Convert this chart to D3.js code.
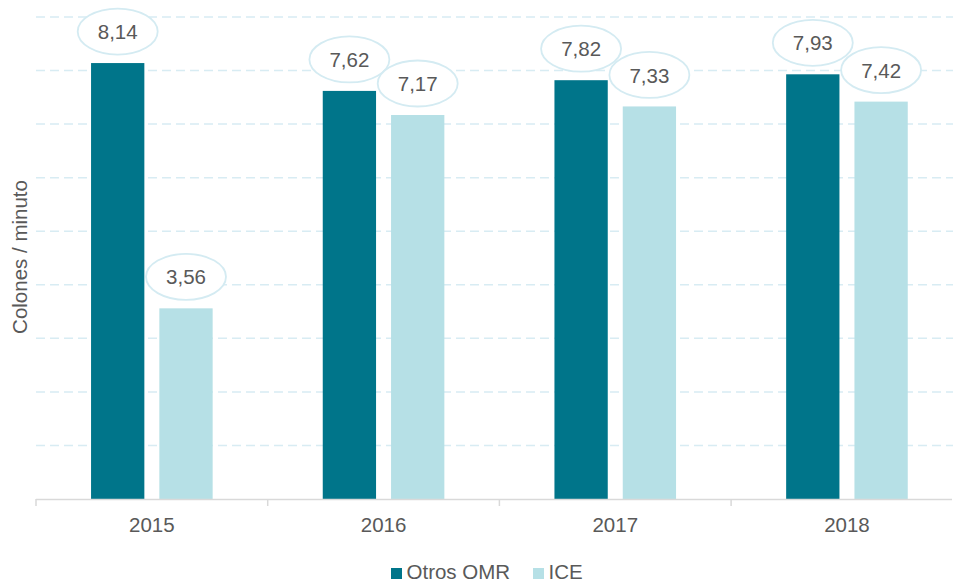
<!DOCTYPE html>
<html><head><meta charset="utf-8">
<script src="https://cdn.jsdelivr.net/npm/d3@7"></script>
<style>body{margin:0;background:#fff}svg{display:block}text{font-family:"Liberation Sans",Arial,sans-serif;fill:#595959}</style>
</head><body>
<svg id="c" width="953" height="582"></svg>
<script>
const years = ["2015","2016","2017","2018"];
const seriesNames = ["Otros OMR","ICE"];
const otrosOMR = [8.14, 7.62, 7.82, 7.93];
const ice = [3.56, 7.17, 7.33, 7.42];
const gridValues = [1,2,3,4,5,6,7,8,9];
const colors = ["#00758a","#b6e0e6"];

const svg = d3.select("#c");
const fs = 20.5;
const x0 = d3.scaleBand().domain(years).range([36, 962.8]).paddingInner(0).paddingOuter(0);
const x1 = d3.scaleBand().domain(seriesNames).range([0, x0.bandwidth()]).paddingInner(0.2196).paddingOuter(0.806);
const y = d3.scaleLinear().domain([0, 9]).range([499, 17]);

// grid
svg.append("g").selectAll("line").data(gridValues).join("line")
  .attr("x1", 36).attr("x2", 953)
  .attr("y1", d => y(d)).attr("y2", d => y(d))
  .attr("stroke", "#d8ecf3").attr("stroke-width", 1.5).attr("stroke-dasharray", "9,5");

const data = years.map((yr, i) => ({year: yr, vals: [otrosOMR[i], ice[i]]}));

const g = svg.append("g").selectAll("g").data(data).join("g")
  .attr("transform", d => `translate(${x0(d.year)},0)`);
g.selectAll("rect").data(d => d.vals.map((v, j) => ({v, s: seriesNames[j], j}))).join("rect")
  .attr("x", d => x1(d.s)).attr("width", x1.bandwidth())
  .attr("y", d => y(d.v)).attr("height", d => y(0) - y(d.v))
  .attr("fill", d => colors[d.j]);

// axis
const axisG = svg.append("g").attr("transform", `translate(0,${y(0)})`);
axisG.append("line").attr("x1", 36).attr("x2", 952).attr("y1", 0.5).attr("y2", 0.5)
  .attr("stroke", "#d9d9d9").attr("stroke-width", 1.5);
const tickPos = years.map(yr => x0(yr));
axisG.selectAll("line.t").data(tickPos).join("line").attr("class","t")
  .attr("x1", d => d).attr("x2", d => d).attr("y1", 0).attr("y2", 7)
  .attr("stroke", "#d9d9d9").attr("stroke-width", 1.5);
axisG.selectAll("text").data(years).join("text")
  .attr("x", d => x0(d) + x0.bandwidth()/2).attr("y", 33)
  .attr("text-anchor", "middle").attr("font-size", fs).text(d => d);

// labels (ellipses)
const labs = svg.append("g");
data.forEach(d => {
  d.vals.forEach((v, j) => {
    const cx = x0(d.year) + x1(seriesNames[j]) + x1.bandwidth()/2;
    const cy = y(v) - 31.5;
    labs.append("ellipse").attr("cx", cx).attr("cy", cy).attr("rx", 40).attr("ry", 23)
      .attr("fill", "#fff").attr("stroke", "#d4ebf2").attr("stroke-width", 1.8);
    labs.append("text").attr("x", cx).attr("y", cy + 7.6).attr("text-anchor", "middle")
      .attr("font-size", fs).text(d3.format(".2f")(v).replace(".", ","));
  });
});

// y title
svg.append("text").attr("transform", "translate(26.7,257) rotate(-90)")
  .attr("text-anchor", "middle").attr("font-size", fs).text("Colones / minuto");

// legend
const leg = svg.append("g");
const legX = [391, 533];
seriesNames.forEach((s, i) => {
  leg.append("rect").attr("x", legX[i]).attr("y", 568).attr("width", 11).attr("height", 11).attr("fill", colors[i]);
  leg.append("text").attr("x", legX[i] + 15.5).attr("y", 579).attr("font-size", fs).text(s);
});
</script>
</body></html>
